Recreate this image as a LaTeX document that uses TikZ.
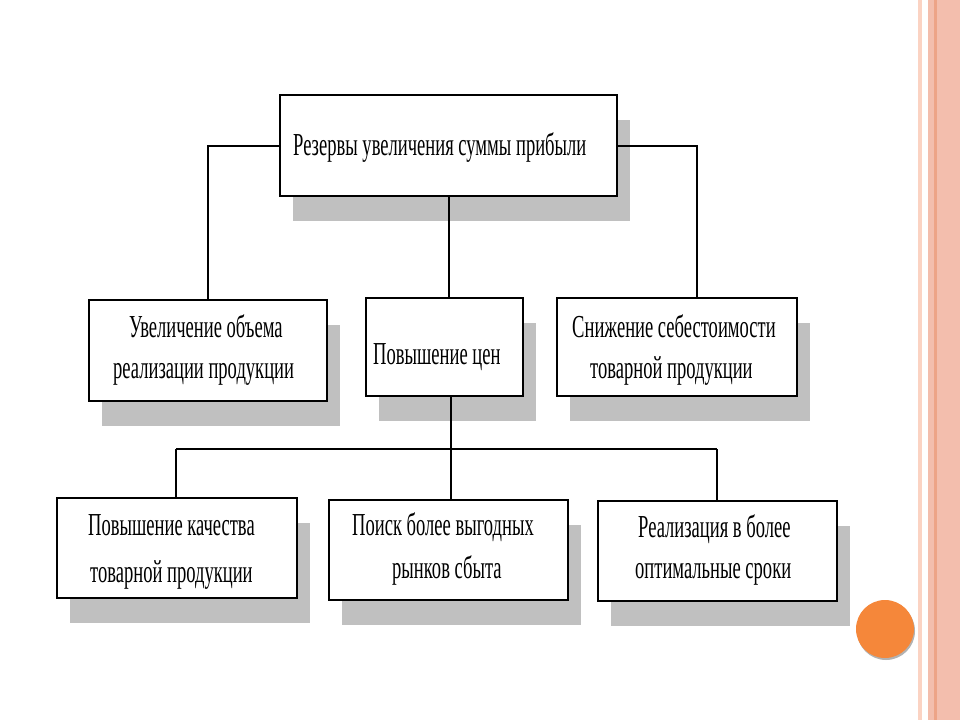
\documentclass[tikz,border=0pt]{standalone}
\usepackage{fontspec}
\newfontfamily\cond[FakeStretch=0.58]{Liberation Serif}
\usetikzlibrary{shadows}
\definecolor{shadowc}{HTML}{C0C0C0}
\definecolor{peachA}{HTML}{FBD3C3}
\definecolor{peachB}{HTML}{F3BEAD}
\definecolor{peachC}{HTML}{EDA487}
\definecolor{dotc}{HTML}{F5873A}
\tikzset{
  x=1pt, y=-1pt,
  boxstyle/.style={draw=black, line width=2pt, fill=white,
    general shadow={fill=shadowc, shadow xshift=13pt, shadow yshift=-25pt}},
  txt/.style={anchor=base west, inner sep=0pt, font=\cond\fontsize{32}{32}\selectfont},
  conn/.style={draw=black, line width=1.6pt},
  bus/.style={draw=black, line width=2.4pt}
}
\begin{document}
\begin{tikzpicture}
\useasboundingbox (0,0) rectangle (960,720);
\fill[white] (0,0) rectangle (960,720);
% right border
\fill[peachA] (918,0) rectangle (922,720);
\fill[peachB] (928,0) rectangle (960,720);
\fill[peachC] (934,0) rectangle (937,720);
% orange dot
\fill[gray!60] (886,631) circle (29);
\node[circle, fill=dotc, minimum size=58pt, inner sep=0pt] (dot) at (885,629) {};

% boxes
\node[boxstyle, minimum width=337pt, minimum height=101pt] (top) at (448.5,145.5) {};
\node[boxstyle, minimum width=238pt, minimum height=101pt] (b1) at (208,350.5) {};
\node[boxstyle, minimum width=157pt, minimum height=98pt] (b2) at (444.5,347) {};
\node[boxstyle, minimum width=240pt, minimum height=98pt] (b3) at (677,347) {};
\node[boxstyle, minimum width=240pt, minimum height=100pt] (b4) at (177,548) {};
\node[boxstyle, minimum width=239pt, minimum height=100pt] (b5) at (448.5,550) {};
\node[boxstyle, minimum width=239pt, minimum height=100pt] (b6) at (717.5,551) {};

% connector points
\coordinate (tl) at (208,146);
\coordinate (tr) at (697,146);
\coordinate (tb) at (449,196);
\coordinate (b2t) at (449,298);
\coordinate (b2b) at (451,396);
\coordinate (busl) at (176,449);
\coordinate (busm) at (451,449);
\coordinate (busr) at (717,449);

% connectors
\draw[conn] (top.west |- tl) -- (tl) -- (tl |- b1.north);
\draw[conn] (top.east |- tr) -- (tr) -- (tr |- b3.north);
\draw[conn] (tb) -- (b2t);
\draw[conn] (b2b) -- (busm);
\draw[bus] (busl) -- (busr);
\draw[conn] (busl) -- (busl |- b4.north);
\draw[conn] (busm) -- (busm |- b5.north);
\draw[conn] (busr) -- (busr |- b6.north);

% texts
\node[txt] (t0) at (293,155) {Резервы увеличения суммы прибыли};
\node[txt] (t1a) at (129,337) {Увеличение объема};
\node[txt] (t1b) at (113,378) {реализации продукции};
\node[txt] (t2) at (373,364) {Повышение цен};
\node[txt] (t3a) at (572,337) {Снижение себестоимости};
\node[txt] (t3b) at (590,378) {товарной продукции};
\node[txt] (t4a) at (88,535) {Повышение качества};
\node[txt] (t4b) at (90,582) {товарной продукции};
\node[txt] (t5a) at (352,535) {Поиск более выгодных};
\node[txt] (t5b) at (392,578) {рынков сбыта};
\node[txt] (t6a) at (638,537) {Реализация в более};
\node[txt] (t6b) at (635,578) {оптимальные сроки};
\end{tikzpicture}
\end{document}
